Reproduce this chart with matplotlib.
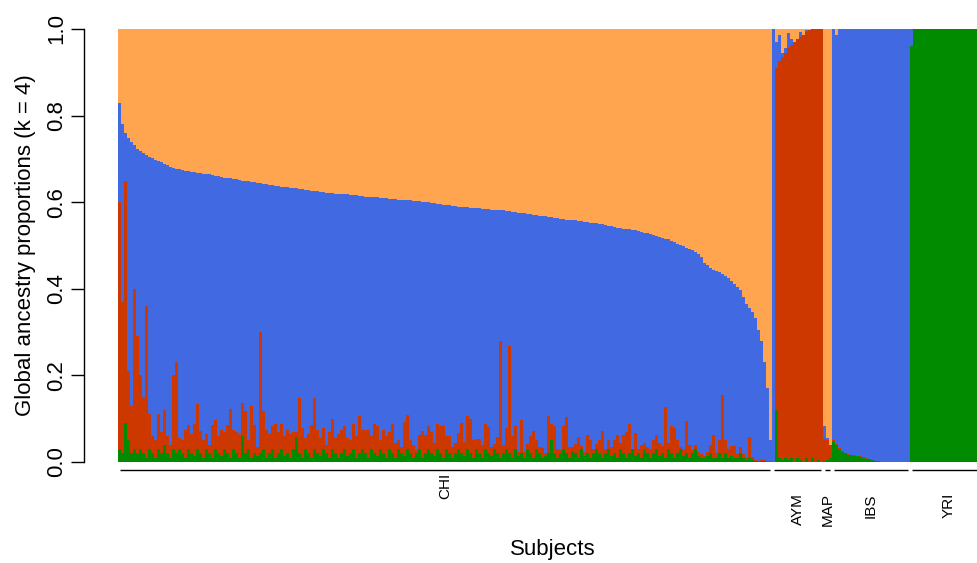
import numpy as np
import matplotlib
matplotlib.use("Agg")
import matplotlib.pyplot as plt

plt.rcParams['font.family'] = ['Liberation Sans', 'DejaVu Sans']

# ---------------- data (proportions per subject, groups in plot order) ----------------
groups = ["CHI", "AYM", "MAP", "IBS", "YRI"]
colors = {"green": "#008B00", "red": "#CD3700", "blue": "#4169E1", "orange": "#FFA54F"}

chi_orange = [
0.17,0.22,0.24,0.252,0.26,0.268,0.278,0.282,0.286,0.291,
0.296,0.299,0.302,0.305,0.308,0.311,0.315,0.318,0.321,0.323,
0.324,0.326,0.327,0.329,0.330,0.331,0.332,0.333,0.334,0.335,
0.336,0.338,0.339,0.340,0.341,0.343,0.344,0.345,0.346,0.347,
0.349,0.350,0.351,0.352,0.353,0.354,0.355,0.356,0.357,0.359,
0.360,0.361,0.362,0.363,0.364,0.365,0.366,0.367,0.367,0.368,
0.369,0.370,0.371,0.372,0.373,0.374,0.375,0.376,0.377,0.378,
0.379,0.379,0.380,0.380,0.381,0.382,0.382,0.383,0.383,0.384,
0.385,0.386,0.387,0.387,0.388,0.389,0.389,0.390,0.390,0.391,
0.392,0.393,0.393,0.394,0.395,0.395,0.396,0.396,0.397,0.398,
0.398,0.399,0.400,0.400,0.402,0.403,0.404,0.405,0.406,0.407,
0.407,0.408,0.409,0.410,0.411,0.412,0.412,0.413,0.413,0.414,
0.414,0.415,0.415,0.416,0.417,0.417,0.418,0.418,0.419,0.420,
0.421,0.422,0.423,0.424,0.425,0.426,0.427,0.428,0.429,0.430,
0.431,0.432,0.433,0.434,0.435,0.436,0.437,0.438,0.439,0.440,
0.441,0.442,0.442,0.443,0.444,0.445,0.446,0.447,0.448,0.449,
0.450,0.451,0.452,0.454,0.456,0.458,0.459,0.460,0.461,0.462,
0.463,0.464,0.465,0.467,0.468,0.470,0.472,0.474,0.476,0.479,
0.481,0.483,0.485,0.486,0.489,0.493,0.496,0.498,0.502,0.505,
0.507,0.511,0.515,0.520,0.527,0.540,0.545,0.551,0.556,0.559,
0.562,0.566,0.570,0.576,0.582,0.589,0.596,0.603,0.620,0.636,
0.644,0.653,0.667,0.695,0.720,0.770,0.830,0.950]

chi_red = [
0.57,0.35,0.56,0.16,0.11,0.37,0.27,0.17,0.13,0.35,
0.08,0.04,0.04,0.08,0.05,0.08,0.04,0.03,0.17,0.21,
0.025,0.03,0.065,0.055,0.045,0.073,0.104,0.052,0.04,0.035,
0.02,0.075,0.067,0.04,0.06,0.04,0.065,0.113,0.045,0.05,
0.055,0.076,0.097,0.02,0.12,0.065,0.02,0.28,0.087,0.065,
0.044,0.052,0.078,0.05,0.058,0.045,0.055,0.054,0.04,0.012,
0.128,0.068,0.025,0.044,0.075,0.117,0.055,0.04,0.048,0.02,
0.06,0.07,0.035,0.054,0.055,0.052,0.04,0.03,0.057,0.05,
0.086,0.044,0.055,0.064,0.03,0.068,0.069,0.02,0.054,0.05,
0.04,0.068,0.033,0.02,0.015,0.077,0.078,0.03,0.03,0.007,
0.033,0.062,0.043,0.052,0.05,0.028,0.058,0.062,0.074,0.03,
0.04,0.025,0.023,0.038,0.07,0.032,0.076,0.08,0.04,0.024,
0.032,0.03,0.058,0.06,0.02,0.012,0.038,0.27,0.02,0.048,
0.248,0.05,0.054,0.008,0.077,0.013,0.012,0.04,0.062,0.02,
0.015,0.023,0.005,0.086,0.038,0.062,0.021,0.007,0.052,0.084,
0.025,0.01,0.022,0.048,0.007,0.008,0.043,0.04,0.009,0.012,
0.03,0.062,0.011,0.02,0.02,0.03,0.053,0.013,0.043,0.06,
0.068,0.001,0.051,0.009,0.03,0.015,0.015,0.021,0.03,0.033,
0.03,0.017,0.116,0.013,0.062,0.068,0.03,0.005,0.016,0.075,
0.03,0.007,0.01,0.008,0.009,0.005,0.008,0.02,0.053,0.01,
0.03,0.145,0.03,0.019,0.022,0.027,0.009,0.015,0.009,0.007,
0.048,0.007,0.002,0.001,0.002,0.002,0.001,0.001]

chi_green = [
0.03,0.02,0.09,0.05,0.02,0.03,0.02,0.03,0.02,0.01,
0.03,0.02,0.01,0.03,0.02,0.04,0.02,0.01,0.03,0.02,
0.03,0.02,0.01,0.03,0.02,0.015,0.03,0.02,0.01,0.03,
0.02,0.01,0.03,0.02,0.015,0.03,0.02,0.01,0.03,0.02,
0.01,0.06,0.02,0.03,0.01,0.02,0.015,0.02,0.03,0.01,
0.02,0.03,0.01,0.02,0.03,0.015,0.02,0.01,0.03,0.058,
0.02,0.01,0.03,0.02,0.01,0.03,0.02,0.015,0.03,0.02,
0.01,0.03,0.02,0.01,0.02,0.03,0.015,0.02,0.03,0.01,
0.02,0.03,0.02,0.01,0.03,0.02,0.015,0.03,0.02,0.01,
0.03,0.02,0.01,0.03,0.02,0.015,0.03,0.02,0.01,0.02,
0.03,0.01,0.02,0.03,0.02,0.015,0.03,0.02,0.01,0.03,
0.02,0.01,0.02,0.03,0.02,0.015,0.03,0.02,0.01,0.03,
0.02,0.01,0.03,0.02,0.015,0.03,0.02,0.01,0.02,0.03,
0.02,0.01,0.03,0.015,0.02,0.01,0.03,0.02,0.01,0.03,
0.02,0.01,0.015,0.02,0.05,0.02,0.01,0.02,0.03,0.02,
0.01,0.025,0.02,0.01,0.03,0.015,0.02,0.01,0.02,0.03,
0.02,0.01,0.02,0.03,0.015,0.02,0.01,0.03,0.02,0.01,
0.02,0.03,0.015,0.02,0.01,0.03,0.02,0.01,0.02,0.03,
0.015,0.02,0.01,0.03,0.02,0.01,0.02,0.03,0.015,0.02,
0.01,0.02,0.03,0.015,0.01,0.01,0.015,0.02,0.01,0.01,
0.02,0.01,0.02,0.01,0.015,0.01,0.01,0.02,0.01,0.005,
0.01,0.005,0.002,0.002,0.003,0.002,0.001,0.001]

aym_orange = [0.0,0.03,0.015,0.055,0.045,0.01,0.023,0.03,0.023,0.008,0.013,0.003,0.003,0.0,0.0,0.0,0.0]
aym_red    = [0.0,0.79,0.915,0.93,0.935,0.95,0.952,0.97,0.967,0.977,0.987,0.982,0.997,0.99,1.0,0.995,1.0]
aym_green  = [0.0,0.12,0.01,0.005,0.01,0.005,0.01,0.0,0.01,0.005,0.0,0.01,0.0,0.01,0.0,0.005,0.0]

map_orange = [0.917,0.945,0.96]
map_red    = [0.05,0.045,0.03]
map_green  = [0.003,0.005,0.01]

ibs_orange = [0.0,0.015] + [0.0] * 24
ibs_red    = [0.003,0.002,0.002,0.001,0.001,0.001,0.001,0.002,0.002,0.002,0.002,0.001,0.001] + [0.0] * 13
ibs_green  = [0.047,0.04,0.03,0.024,0.02,0.017,0.016,0.015,0.013,0.011,0.01,0.008,0.006,
              0.004,0.003,0.002,0.001] + [0.0] * 9

yri_orange = [0.0] * 26
yri_red    = [0.0] * 26
yri_green  = [0.96] + [1.0] * 25

# ---------------- assemble ----------------
orange = np.array(chi_orange + aym_orange + map_orange + ibs_orange + yri_orange)
red = np.array(chi_red + aym_red + map_red + ibs_red + yri_red)
green = np.array(chi_green + aym_green + map_green + ibs_green + yri_green)
blue = np.clip(1.0 - orange - red - green, 0, None)
sizes = [len(chi_orange), len(aym_orange), len(map_orange), len(ibs_orange), len(yri_orange)]
n = len(orange)
x = np.arange(n)

# ---------------- figure ----------------
W, H = 977, 563
fig = plt.figure(figsize=(W / 100, H / 100), dpi=100)
left_px, right_px, top_px, bot_px = 118, 988, 29, 462
ax = fig.add_axes([left_px / W, 1 - bot_px / H, (right_px - left_px) / W, (bot_px - top_px) / H])

bottom = np.zeros(n)
for vals, key in [(green, "green"), (red, "red"), (blue, "blue"), (orange, "orange")]:
    ax.bar(x, vals, width=1.0, bottom=bottom, align='edge', color=colors[key],
           linewidth=0, antialiased=False)
    bottom = bottom + vals

ax.set_xlim(0, n)
ax.set_ylim(0, 1)
for s in ['top', 'right', 'bottom']:
    ax.spines[s].set_visible(False)
ax.spines['left'].set_position(('outward', 24.5))
ax.spines['left'].set_bounds(0, 1)
ax.spines['left'].set_linewidth(1.0)
ax.set_xticks([])
ax.set_yticks([0, 0.2, 0.4, 0.6, 0.8, 1.0])
ax.set_yticklabels(["0.0", "0.2", "0.4", "0.6", "0.8", "1.0"])
ax.tick_params(axis='y', length=9.4, width=1.0, pad=2.4, labelsize=16, labelrotation=90)
for lab in ax.get_yticklabels():
    lab.set_va('center')

# group segments and labels
trans = ax.get_xaxis_transform()
label_top = {"CHI": -0.025}
start = 0
for g, sz in zip(groups, sizes):
    end = start + sz
    ax.plot([start + 0.6, end - 0.8], [-0.0185, -0.0185], color='black', lw=1.0,
            transform=trans, clip_on=False, solid_capstyle='butt')
    ax.text((start + end) / 2, label_top.get(g, -0.0716), g, rotation=90, ha='center', va='top',
            fontsize=11, transform=trans)
    start = end

fig.text(26 / W, 1 - 245.5 / H, "Global ancestry proportions (k = 4)", rotation=90,
         ha='center', va='center', fontsize=16)
fig.text(553 / W, 1 - 549 / H, "Subjects", ha='center', va='center', fontsize=16)

fig.savefig("out.png", dpi=100)
